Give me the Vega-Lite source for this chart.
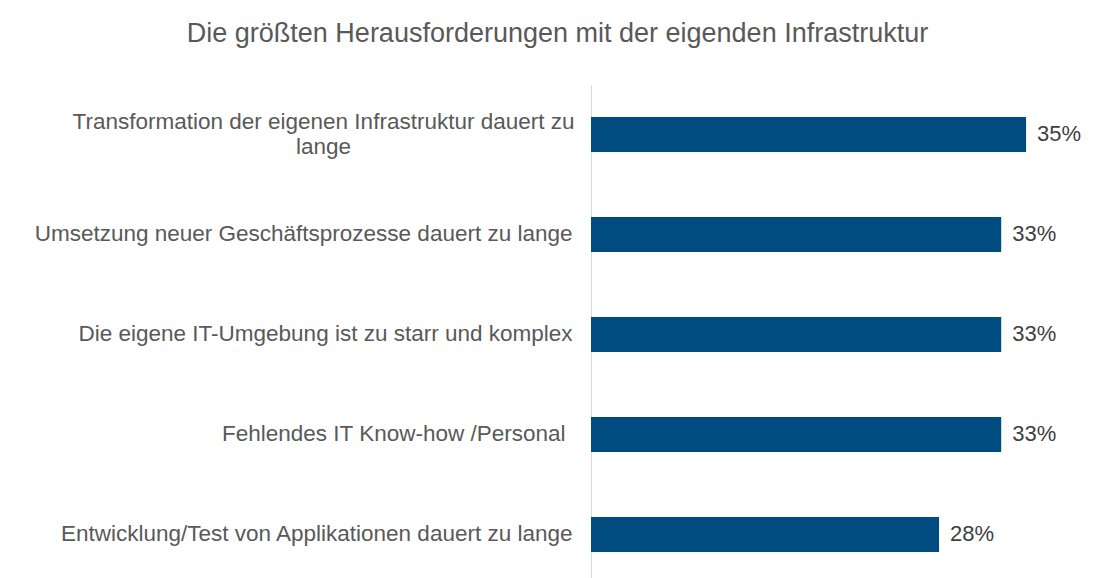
{
  "$schema": "https://vega.github.io/schema/vega-lite/v6.json",
  "autosize": "none",
  "width": 513,
  "height": 493,
  "padding": {"left": 591, "right": 0, "top": 85, "bottom": 0},
  "background": "white",
  "config": {"view": {"stroke": null}, "font": "Liberation Sans"},
  "title": {
    "text": "Die größten Herausforderungen mit der eigenden Infrastruktur",
    "font": "Liberation Sans",
    "fontSize": 27,
    "fontWeight": "normal",
    "color": "#595959",
    "anchor": "middle",
    "frame": "group",
    "dx": -290,
    "baseline": "alphabetic",
    "offset": 16
  },
  "data": {
    "values": [
      {"cat": "Transformation der eigenen Infrastruktur dauert zu lange", "pct": 0.35},
      {"cat": "Umsetzung neuer Geschäftsprozesse dauert zu lange", "pct": 0.33},
      {"cat": "Die eigene IT-Umgebung ist zu starr und komplex", "pct": 0.33},
      {"cat": "Fehlendes IT Know-how /Personal", "pct": 0.33},
      {"cat": "Entwicklung/Test von Applikationen dauert zu lange", "pct": 0.28}
    ]
  },
  "encoding": {
    "y": {
      "field": "cat",
      "type": "nominal",
      "sort": null,
      "title": null,
      "scale": {"paddingInner": 0.65, "paddingOuter": 0.29, "align": 0.55},
      "axis": {
        "ticks": false,
        "domain": true,
        "domainColor": "#d9d9d9",
        "domainWidth": 1,
        "labelFont": "Liberation Sans",
        "labelFontSize": 22.5,
        "labelColor": "#595959",
        "labelLimit": 0,
        "labelLineHeight": 25,
        "labelExpr": "datum.value == 'Transformation der eigenen Infrastruktur dauert zu lange' ? ['Transformation der eigenen Infrastruktur dauert zu', 'lange'] : datum.value",
        "labelAlign": {"condition": {"test": "datum.value == 'Transformation der eigenen Infrastruktur dauert zu lange'", "value": "center"}, "value": "right"},
        "labelPadding": {"condition": [
          {"test": "datum.value == 'Transformation der eigenen Infrastruktur dauert zu lange'", "value": 268},
          {"test": "datum.value == 'Fehlendes IT Know-how /Personal'", "value": 26}
        ], "value": 19},
        "labelOffset": {"condition": {"test": "datum.value == 'Transformation der eigenen Infrastruktur dauert zu lange'", "value": -12}, "value": 0}
      }
    },
    "x": {
      "field": "pct",
      "type": "quantitative",
      "scale": {"domain": [0, 0.4127], "nice": false, "zero": true},
      "axis": null
    }
  },
  "layer": [
    {"mark": {"type": "bar", "color": "#004b7f"}},
    {
      "mark": {"type": "text", "align": "left", "baseline": "middle", "dx": 11, "fontSize": 22, "font": "Liberation Sans", "color": "#404040"},
      "encoding": {"text": {"field": "pct", "type": "quantitative", "format": ".0%"}}
    }
  ]
}
